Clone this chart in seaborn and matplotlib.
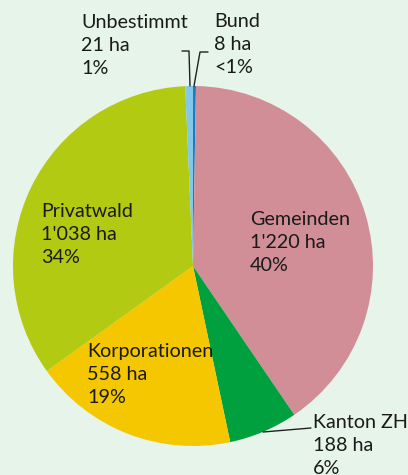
import matplotlib
matplotlib.use("Agg")
import matplotlib.pyplot as plt
import seaborn as sns

# ---- data ----
categories = ["Bund", "Gemeinden", "Kanton ZH", "Korporationen", "Privatwald", "Unbestimmt"]
hectares = [8, 1220, 188, 558, 1038, 21]
percent_labels = ["<1%", "40%", "6%", "19%", "34%", "1%"]
colors = ["#1b7dbf", "#d18e97", "#00a03e", "#f5c700", "#b2ca12", "#82c8ea"]

sns.set_style("white")
plt.rcParams["font.family"] = ["Lato", "DejaVu Sans"]

W, H = 408, 475
fig = plt.figure(figsize=(W / 100, H / 100), dpi=100)
bg = "#e6f4ea"
fig.patch.set_facecolor(bg)
ax = fig.add_axes([0, 0, 1, 1])
ax.set_facecolor(bg)

cx, cy, r = 193, H - 266, 180
ax.pie(hectares, colors=colors, startangle=90, counterclock=False,
       center=(cx, cy), radius=r, wedgeprops=dict(linewidth=0))
ax.set_xlim(0, W)
ax.set_ylim(0, H)
ax.set_aspect("equal")
ax.axis("off")

def fmt_ha(v):
    return f"{v:,}".replace(",", "'") + " ha"

# label top-left positions in pixel coords (top-origin)
label_pos = {
    "Bund": (214, 13),
    "Gemeinden": (250, 211),
    "Kanton ZH": (313, 414),
    "Korporationen": (87, 343),
    "Privatwald": (41, 203),
    "Unbestimmt": (81, 14),
}
for cat, ha_v, pct in zip(categories, hectares, percent_labels):
    x, y = label_pos[cat]
    ax.text(x, H - y, f"{cat}\n{fmt_ha(ha_v)}\n{pct}", ha="left", va="top",
            fontsize=14.2, color="#1a1a1a", linespacing=1.42)

# leader lines
lc = "#222222"
ax.plot([182, 189, 190], [H - 51, H - 51, H - 86], color=lc, lw=1)
ax.plot([208, 200, 194], [H - 52, H - 52, H - 86], color=lc, lw=1)
ax.plot([263, 311], [H - 432, H - 428], color=lc, lw=1)

fig.savefig("out.png", dpi=100, facecolor=bg)
